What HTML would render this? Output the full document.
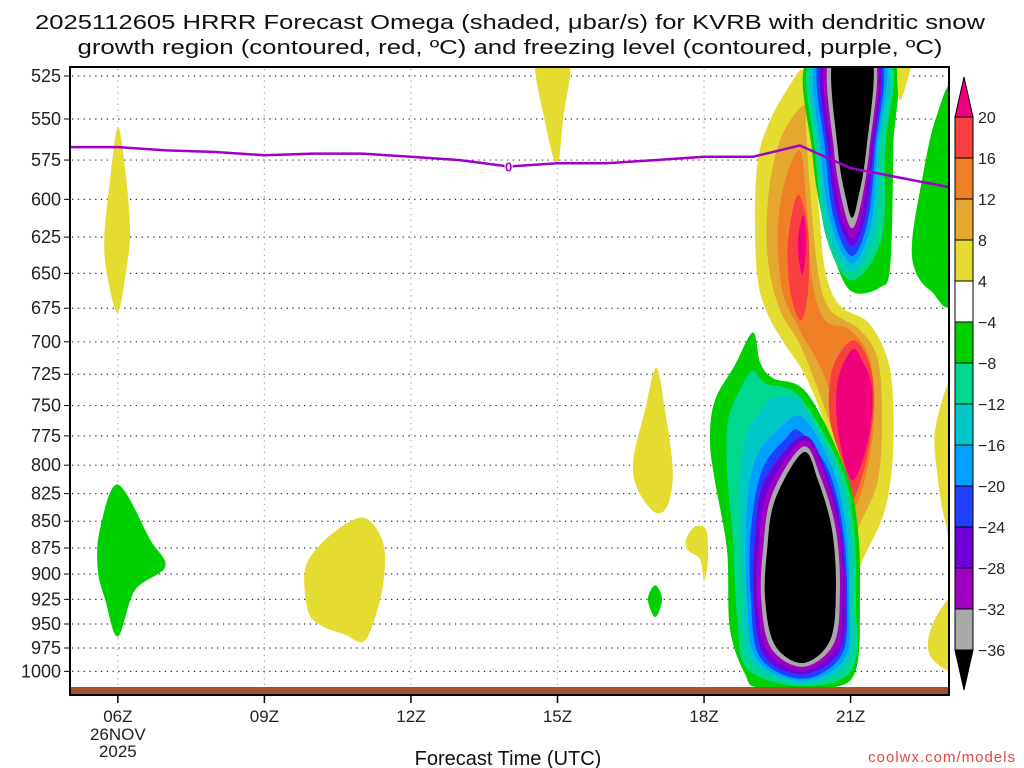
<!DOCTYPE html>
<html><head><meta charset="utf-8"><style>
html,body{margin:0;padding:0;background:#fff;}
svg{display:block;font-family:"Liberation Sans",sans-serif;}
</style></head><body>
<svg id="chart" width="1024" height="768" viewBox="0 0 1024 768">
<defs><clipPath id="plotclip"><rect x="70" y="67" width="879" height="628"/></clipPath></defs>
<text x="510" y="29" text-anchor="middle" font-size="20" textLength="950" lengthAdjust="spacingAndGlyphs" fill="#111">2025112605 HRRR Forecast Omega (shaded, μbar/s) for KVRB with dendritic snow</text>
<text x="510" y="54" text-anchor="middle" font-size="20" textLength="865" lengthAdjust="spacingAndGlyphs" fill="#111">growth region (contoured, red, ºC) and freezing level (contoured, purple, ºC)</text>
<g id="grid"></g>
<g id="fills" clip-path="url(#plotclip)"></g>
<g id="frz" clip-path="url(#plotclip)"></g>
<rect x="70" y="687" width="879" height="8" fill="#a0522d"/>
<rect x="70" y="67" width="879" height="628" fill="none" stroke="#000" stroke-width="2"/>
<g id="axes"></g>
<g id="cbar"></g>
<text x="508" y="765" text-anchor="middle" font-size="20" fill="#111">Forecast Time (UTC)</text>
<text x="1016" y="762" text-anchor="end" font-size="15" letter-spacing="1" fill="#e04848">coolwx.com/models</text>
</svg>
<script>
const pLevels=[525,550,575,600,625,650,675,700,725,750,775,800,825,850,875,900,925,950,975,1000];
const xTickHours=[6,9,12,15,18,21];
const xTickLabels=["06Z","09Z","12Z","15Z","18Z","21Z"];
const cbarLabels=["20","16","12","8","4","−4","−8","−12","−16","−20","−24","−28","−32","−36"];
const cbarColors=["#f84040","#f08028","#e4a830","#e4dc30","#ffffff","#00d000","#00d890","#00c8c8","#00a0ff","#2040ff","#7000d8","#a000c0","#a8a8a8"];
const frzHours=[5,6,7,8,9,10,11,12,13,14,15,16,17,18,19,19.96,21,22,23];
const frzPres=[567,567,569,570,572,571,571,573,575,579,577,577,575,573,573,566,580,586,592];
const frzLabelHour=14, frzLabelPres=579;
// shaded omega regions: [color, polygon of [hour, hPa]]
const shYellow=[[20.03,522],[19.76,530],[19.35,551],[19.10,575],[19.04,614],[19.10,655],[19.31,680],[19.66,702],[20.07,726],[20.48,766],[20.78,813],[20.95,858],[21.03,906],[21.29,882],[21.70,840],[21.87,787],[21.81,722],[21.40,687],[20.78,673],[20.48,648],[20.33,600],[20.13,545]];
const shLtOrange=[[20.03,542],[19.55,563],[19.31,600],[19.31,641],[19.55,676],[19.96,702],[20.37,741],[20.74,787],[20.95,831],[21.03,867],[21.23,849],[21.56,813],[21.64,762],[21.56,714],[21.19,691],[20.58,676],[20.33,648],[20.17,594],[20.09,557]];
const shOrange=[[19.96,569],[19.66,588],[19.51,620],[19.60,662],[19.96,691],[20.41,722],[20.74,762],[20.95,813],[21.03,840],[21.29,813],[21.48,762],[21.40,714],[20.99,691],[20.48,684],[20.21,655],[20.09,600]];
const shRedUpper=[[19.92,597],[19.72,627],[19.76,662],[19.98,684],[20.13,662],[20.13,620]];
const shRedLower=[[21.03,699],[20.62,722],[20.58,762],[20.89,804],[21.03,831],[21.32,796],[21.48,746],[21.36,714]];
const shPinkUpper=[[20.03,610],[19.92,630],[20.01,651],[20.09,630]];
const shPinkLower=[[21.03,706],[20.74,730],[20.74,770],[21.03,813],[21.36,778],[21.44,737],[21.23,714]];
const upGreen=[[20.13,515],[20.21,569],[20.41,610],[20.78,650],[21.09,664],[21.60,660],[21.81,645],[21.87,569],[21.85,515]];
const upTeal=[[20.19,515],[20.27,569],[20.50,625],[21.03,655],[21.64,625],[21.70,569],[21.79,515]];
const upCyan=[[20.25,515],[20.33,569],[20.54,622],[21.03,649],[21.50,622],[21.60,569],[21.74,515]];
const upSky=[[20.31,515],[20.39,569],[20.60,616],[21.03,643],[21.42,616],[21.54,569],[21.68,515]];
const upBlue=[[20.37,515],[20.48,569],[20.66,613],[21.03,638],[21.36,613],[21.50,569],[21.62,515]];
const upViolet=[[20.43,515],[20.54,569],[20.72,609],[21.03,631],[21.32,609],[21.46,569],[21.58,515]];
const upPurple=[[20.50,515],[20.60,569],[20.78,606],[21.03,626],[21.25,606],[21.42,569],[21.54,515]];
const upGray=[[20.56,515],[20.66,569],[20.84,603],[21.03,619],[21.21,603],[21.38,569],[21.50,515]];
const upBlack=[[20.64,515],[20.74,569],[20.91,600],[21.03,612],[21.15,600],[21.32,569],[21.44,515]];
const loGreen=[[19.00,693],[19.15,716],[19.41,728],[20.11,740],[20.89,804],[21.15,858],[21.19,925],[21.11,998],[20.58,1018],[19.15,1018],[18.84,1003],[18.53,955],[18.47,877],[18.22,813],[18.12,778],[18.22,746],[18.63,718]];
const loTeal=[[19.00,722],[19.25,732],[19.96,743],[20.82,804],[21.07,858],[21.11,925],[21.03,998],[20.03,1016],[18.90,998],[18.68,945],[18.59,867],[18.47,804],[18.49,762],[18.74,737]];
const loCyan=[[20.03,750],[20.74,804],[20.99,858],[21.03,925],[20.95,990],[20.03,1013],[18.98,990],[18.80,925],[18.74,840],[18.84,778],[19.35,746],[19.76,743]];
const loSky=[[20.03,760],[20.64,804],[20.91,858],[20.97,925],[20.89,985],[20.03,1010],[19.08,987],[18.88,925],[18.86,849],[19.04,796],[19.55,769]];
const loBlue=[[19.96,771],[20.54,804],[20.84,856],[20.93,922],[20.82,982],[20.03,1008],[19.15,985],[18.96,925],[18.96,858],[19.19,804],[19.66,778]];
const loViolet=[[20.03,775],[20.50,806],[20.80,856],[20.89,920],[20.78,978],[20.03,1003],[19.23,983],[19.02,925],[19.04,867],[19.23,815]];
const loPurple=[[20.03,779],[20.46,808],[20.76,856],[20.84,918],[20.72,974],[20.03,999],[19.31,979],[19.08,925],[19.12,872],[19.31,822]];
const loGray=[[20.03,784],[20.39,811],[20.70,858],[20.78,916],[20.66,970],[20.03,995],[19.37,975],[19.17,925],[19.21,875],[19.39,826]];
const loBlack=[[20.03,789],[20.33,813],[20.62,858],[20.70,916],[20.58,967],[20.03,991],[19.45,972],[19.25,925],[19.29,877],[19.45,831]];
const yel06=[[6.00,555],[5.84,588],[5.72,627],[5.80,655],[6.00,678],[6.17,648],[6.25,620],[6.15,581]];
const yel15=[[14.56,515],[14.74,551],[14.99,578],[15.11,551],[15.24,515]];
const yelTopRight=[[21.97,515],[22.01,539],[22.26,515]];
const yel10=[[9.83,896],[10.14,872],[10.65,853],[11.06,847],[11.37,863],[11.47,886],[11.37,925],[11.06,967],[10.65,961],[10.14,951],[9.89,936]];
const yel17=[[17.02,720],[16.79,754],[16.55,796],[16.65,822],[17.00,842],[17.26,835],[17.36,804],[17.20,754]];
const yel18=[[17.63,867],[17.81,855],[18.04,858],[18.08,886],[18.00,906],[17.92,886],[17.67,877]];
const yelRight1=[[23.1,733],[22.73,770],[22.79,813],[22.93,849],[23.1,867]];
const yelRight2=[[23.1,925],[22.73,945],[22.58,972],[22.73,990],[23.1,994]];
const grn06=[[6.00,817],[5.63,858],[5.59,896],[5.74,925],[6.00,963],[6.35,916],[6.97,893],[6.66,867]];
const grn17=[[17.00,911],[16.85,925],[17.00,943],[17.14,925]];
const grnRight=[[23.1,536],[22.73,551],[22.46,588],[22.26,627],[22.32,648],[22.63,662],[23.1,664]];
const layers=[
 ["#e4dc30",shYellow],["#e4a830",shLtOrange],["#f08028",shOrange],["#f84040",shRedUpper],["#f84040",shRedLower],["#f0007c",shPinkUpper],["#f0007c",shPinkLower],
 ["#00d000",upGreen],["#00d890",upTeal],["#00c8c8",upCyan],["#00a0ff",upSky],["#2040ff",upBlue],["#7000d8",upViolet],["#a000c0",upPurple],["#a8a8a8",upGray],["#000000",upBlack],
 ["#00d000",loGreen],["#00d890",loTeal],["#00c8c8",loCyan],["#00a0ff",loSky],["#2040ff",loBlue],["#7000d8",loViolet],["#a000c0",loPurple],["#a8a8a8",loGray],["#000000",loBlack],
 ["#e4dc30",yel06],["#e4dc30",yel15],["#e4dc30",yelTopRight],["#e4dc30",yel10],["#e4dc30",yel17],["#e4dc30",yel18],["#e4dc30",yelRight1],["#e4dc30",yelRight2],
 ["#00d000",grn06],["#00d000",grn17],["#00d000",grnRight]
];
const NS="http://www.w3.org/2000/svg";
const X0=69, PXH=48.85, H0=5, Y0=76, PXL=924, P0=525;
function xs(h){return X0+(h-H0)*PXH;}
function ys(p){return Y0+PXL*Math.log(p/P0);}
function mk(t,a,parent){const e=document.createElementNS(NS,t);for(const k in a)e.setAttribute(k,a[k]);parent.appendChild(e);return e;}
function smoothPath(pts){
 const n=pts.length;let d="M"+pts[0][0].toFixed(1)+","+pts[0][1].toFixed(1);
 for(let i=0;i<n;i++){const p0=pts[(i-1+n)%n],p1=pts[i],p2=pts[(i+1)%n],p3=pts[(i+2)%n];
  const c1=[p1[0]+(p2[0]-p0[0])/6,p1[1]+(p2[1]-p0[1])/6],c2=[p2[0]-(p3[0]-p1[0])/6,p2[1]-(p3[1]-p1[1])/6];
  d+="C"+c1[0].toFixed(1)+","+c1[1].toFixed(1)+" "+c2[0].toFixed(1)+","+c2[1].toFixed(1)+" "+p2[0].toFixed(1)+","+p2[1].toFixed(1);}
 return d+"Z";}
const grid=document.getElementById('grid'),fills=document.getElementById('fills'),axes=document.getElementById('axes');
pLevels.forEach(p=>{const y=ys(p);
 const g=mk('line',{x1:72,x2:947,y1:y,y2:y,stroke:'#333','stroke-width':1.2,'stroke-dasharray':'1.3 4.5'},grid);
 
 
 const t=mk('line',{x1:64,x2:70,y1:y,y2:y,stroke:'#000','stroke-width':1},axes);
 
 
 const l=mk('text',{x:61,y:y+6,'text-anchor':'end','font-size':18,fill:'#222'},axes);l.textContent=p;
 
 });
xTickHours.forEach((h,i)=>{const x=xs(h);
 const g=mk('line',{x1:x,x2:x,y1:69,y2:686,stroke:'#aaa','stroke-width':1.2,'stroke-dasharray':'1.3 4.5'},grid);
 
 
 const t=mk('line',{x1:x,x2:x,y1:695,y2:703,stroke:'#000','stroke-width':1.5},axes);
 
 
 const l=mk('text',{x:x,y:722,'text-anchor':'middle','font-size':17,fill:'#222'},axes);l.textContent=xTickLabels[i];
 
 });
[["26NOV",740],["2025",757]].forEach(a=>{const l=mk('text',{x:xs(6),y:a[1],'text-anchor':'middle','font-size':17,fill:'#222'},axes);l.textContent=a[0];
 
 });
layers.forEach((L,i)=>{const pts=L[1].map(q=>[xs(q[0]),ys(q[1])]);
 const e=mk('path',{d:smoothPath(pts),fill:L[0]},fills);
 
 });
const frz=document.getElementById('frz');
let fd="";frzHours.forEach((h,i)=>{fd+=(i?"L":"M")+xs(h).toFixed(1)+","+ys(frzPres[i]).toFixed(1);});
const fl=mk('path',{d:fd,fill:'none',stroke:'#a000c8','stroke-width':2.5,'stroke-linejoin':'round'},frz);


const fr=mk('rect',{x:xs(frzLabelHour)-4,y:ys(frzLabelPres)-6,width:8,height:12,fill:'#fff'},frz);


const ft=mk('text',{x:xs(frzLabelHour),y:ys(frzLabelPres)+5,'text-anchor':'middle','font-size':13,'font-weight':'bold',fill:'#a000c8'},frz);ft.textContent="0";


const cb=document.getElementById('cbar');const CX=955,CW=18,CT=117,CH=41;
const tu=mk('polygon',{points:`${CX},${CT} ${CX+CW},${CT} ${CX+CW/2},${CT-40}`,fill:'#f0007c',stroke:'#000','stroke-width':1},cb);


cbarColors.forEach((c,i)=>{const r=mk('rect',{x:CX,y:CT+i*CH,width:CW,height:CH,fill:c,stroke:'#000','stroke-width':1},cb);
 
 });
const yb=CT+cbarColors.length*CH;
const td=mk('polygon',{points:`${CX},${yb} ${CX+CW},${yb} ${CX+CW/2},${yb+40}`,fill:'#000',stroke:'#000','stroke-width':1},cb);


cbarLabels.forEach((s,i)=>{const t=mk('text',{x:978,y:CT+i*CH+6,'font-size':16,fill:'#222'},cb);t.textContent=s;
 
 });
</script>
</body></html>
